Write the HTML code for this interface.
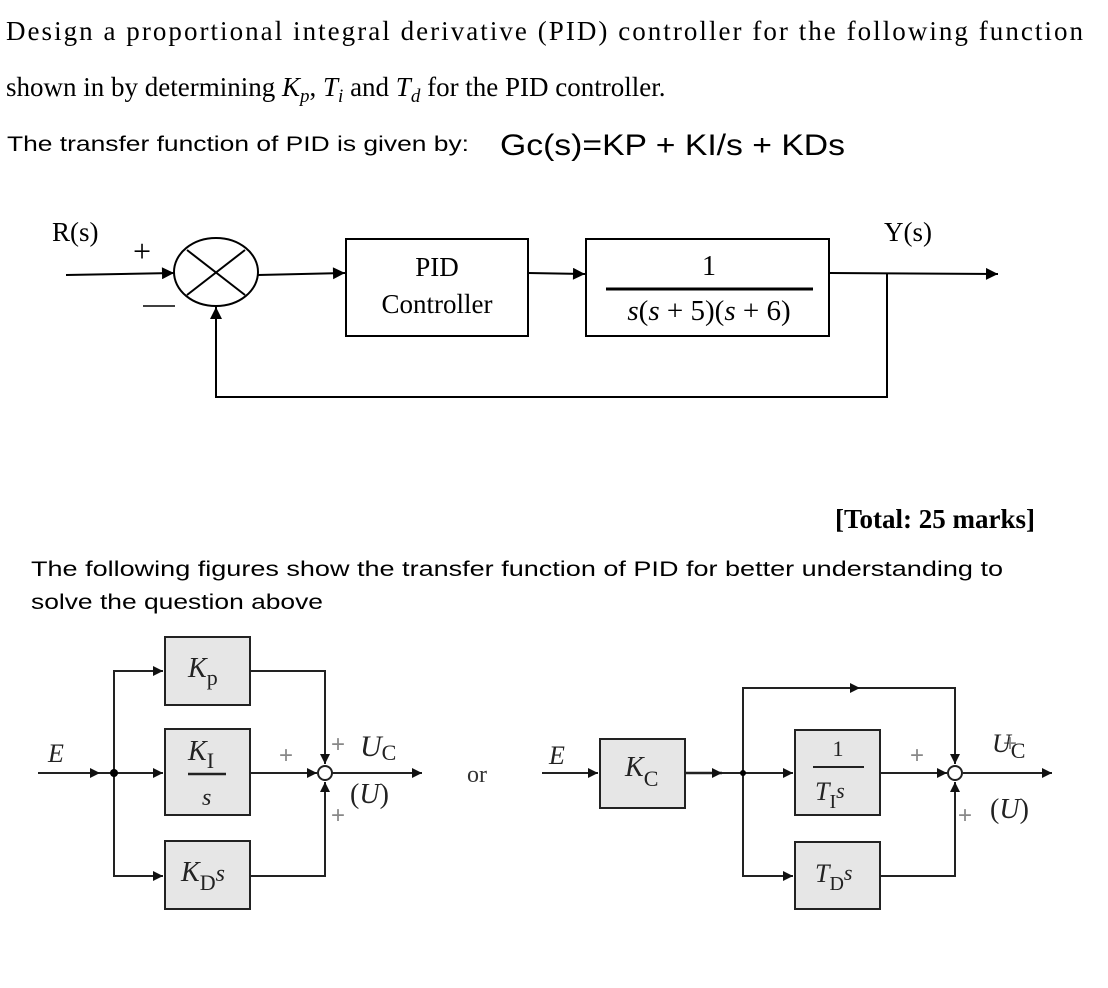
<!DOCTYPE html>
<html><head><meta charset="utf-8"><style>
html,body{margin:0;padding:0;background:#fff;}
svg{display:block;}
.ser{font-family:"Liberation Serif",serif;}
.san{font-family:"Liberation Sans",sans-serif;}
</style></head><body>
<svg width="1108" height="988" viewBox="0 0 1108 988" xmlns="http://www.w3.org/2000/svg">
<defs>
<marker id="a" viewBox="0 0 10 10" refX="10" refY="5" markerWidth="16" markerHeight="12" markerUnits="userSpaceOnUse" orient="auto"><path d="M0,0 L10,5 L0,10 z" fill="#000"/></marker>
<marker id="b" viewBox="0 0 10 10" refX="10" refY="5" markerWidth="14" markerHeight="10" markerUnits="userSpaceOnUse" orient="auto"><path d="M0,0 L10,5 L0,10 z" fill="#111"/></marker>
</defs>
<!-- header text -->
<text class="ser" x="6" y="40" font-size="27" textLength="1077" lengthAdjust="spacing">Design a proportional integral derivative (PID) controller for the following function</text>
<text class="ser" x="6" y="96" font-size="27">shown in by determining <tspan font-style="italic">K<tspan font-size="19" dy="6">p</tspan></tspan><tspan dy="-6">, </tspan><tspan font-style="italic">T<tspan font-size="19" dy="6">i</tspan></tspan><tspan dy="-6"> and </tspan><tspan font-style="italic">T<tspan font-size="19" dy="6">d</tspan></tspan><tspan dy="-6"> for the PID controller.</tspan></text>
<text class="san" x="7" y="151" font-size="21" textLength="462" lengthAdjust="spacingAndGlyphs">The transfer function of PID is given by:</text>
<text class="san" x="500" y="155" font-size="30" textLength="345" lengthAdjust="spacingAndGlyphs">Gc(s)=KP + KI/s + KDs</text>

<!-- top diagram -->
<g stroke="#000" stroke-width="2" fill="none">
<line x1="66" y1="275" x2="174" y2="273" marker-end="url(#a)"/>
<ellipse cx="216" cy="272" rx="42" ry="34"/>
<line x1="187" y1="250" x2="245" y2="295"/>
<line x1="187" y1="295" x2="245" y2="250"/>
<line x1="258" y1="275" x2="345" y2="273" marker-end="url(#a)"/>
<rect x="346" y="239" width="182" height="97"/>
<line x1="528" y1="273" x2="585" y2="274" marker-end="url(#a)"/>
<rect x="586" y="239" width="243" height="97"/>
<line x1="606" y1="289" x2="813" y2="289" stroke-width="3"/>
<line x1="830" y1="273" x2="998" y2="274" marker-end="url(#a)"/>
<polyline points="887,274 887,397 216,397 216,307" marker-end="url(#a)"/>
<line x1="143" y1="306" x2="175" y2="306" stroke-width="1.5"/>
</g>
<text class="ser" x="52" y="241" font-size="27">R(s)</text>
<text class="ser" x="133" y="262" font-size="32">+</text>
<text class="ser" x="437" y="276" font-size="27" text-anchor="middle">PID</text>
<text class="ser" x="437" y="313" font-size="27" text-anchor="middle">Controller</text>
<text class="ser" x="709" y="275" font-size="28" text-anchor="middle">1</text>
<text class="ser" x="709" y="320" font-size="29" text-anchor="middle"><tspan font-style="italic">s</tspan>(<tspan font-style="italic">s</tspan> + 5)(<tspan font-style="italic">s</tspan> + 6)</text>
<text class="ser" x="884" y="241" font-size="27">Y(s)</text>

<text class="ser" x="1035" y="528" font-size="27" font-weight="bold" text-anchor="end">[Total: 25 marks]</text>
<text class="san" x="31" y="576" font-size="21" textLength="972" lengthAdjust="spacingAndGlyphs">The following figures show the transfer function of PID for better understanding to</text>
<text class="san" x="31" y="609" font-size="21" textLength="292" lengthAdjust="spacingAndGlyphs">solve the question above</text>

<!-- lower left -->
<g stroke="#222" stroke-width="2" fill="none">
<line x1="38" y1="773" x2="100" y2="773" marker-end="url(#b)"/>
<line x1="100" y1="773" x2="163" y2="773" marker-end="url(#b)"/>
<polyline points="114,773 114,671 163,671" marker-end="url(#b)"/>
<polyline points="114,773 114,876 163,876" marker-end="url(#b)"/>
<rect x="165" y="637" width="85" height="68" fill="#e6e6e6"/>
<rect x="165" y="729" width="85" height="86" fill="#e6e6e6"/>
<rect x="165" y="841" width="85" height="68" fill="#e6e6e6"/>
<polyline points="250,671 325,671 325,764" marker-end="url(#b)"/>
<polyline points="250,876 325,876 325,782" marker-end="url(#b)"/>
<line x1="250" y1="773" x2="317" y2="773" marker-end="url(#b)"/>
<line x1="332" y1="773" x2="422" y2="773" marker-end="url(#b)"/>
<line x1="188" y1="774" x2="226" y2="774" stroke-width="2.5"/>
<circle cx="325" cy="773" r="7" fill="#fff"/>
</g>
<circle cx="114" cy="773" r="4" fill="#000"/>
<g class="ser" font-style="italic" fill="#222">
<text x="48" y="762" font-size="26">E</text>
<text x="188" y="677" font-size="28">K<tspan font-style="normal" font-size="22" dy="8">p</tspan></text>
<text x="188" y="760" font-size="28">K<tspan font-style="normal" font-size="22" dy="8">I</tspan></text>
<text x="202" y="805" font-size="24">s</text>
<text x="181" y="881" font-size="28">K<tspan font-style="normal" font-size="22" dy="9">D</tspan><tspan dy="-9" font-size="24">s</tspan></text>
<text x="360" y="756" font-size="30">U<tspan font-style="normal" font-size="22" dy="4">C</tspan></text>
<text x="350" y="803" font-size="28"><tspan font-style="normal">(</tspan>U<tspan font-style="normal">)</tspan></text>
</g>
<g class="san" fill="#888" font-size="24">
<text x="279" y="763">+</text>
<text x="331" y="752">+</text>
<text x="331" y="823">+</text>
<text x="1003" y="751">+</text>
<text x="910" y="763">+</text>
<text x="958" y="823">+</text>
</g>
<text class="ser" x="467" y="782" font-size="24" fill="#333">or</text>

<!-- lower right -->
<g stroke="#222" stroke-width="2" fill="none">
<line x1="542" y1="773" x2="598" y2="773" marker-end="url(#b)"/>
<rect x="600" y="739" width="85" height="69" fill="#e6e6e6"/>
<line x1="686" y1="773" x2="722" y2="773" marker-end="url(#b)" stroke-width="2.5"/>
<line x1="722" y1="773" x2="793" y2="773" marker-end="url(#b)"/>
<polyline points="743,773 743,688 860,688" marker-end="url(#b)"/>
<polyline points="860,688 955,688 955,764" marker-end="url(#b)"/>
<polyline points="743,773 743,876 793,876" marker-end="url(#b)"/>
<rect x="795" y="730" width="85" height="85" fill="#e6e6e6"/>
<rect x="795" y="842" width="85" height="67" fill="#e6e6e6"/>
<line x1="813" y1="767" x2="864" y2="767" stroke-width="2"/>
<line x1="880" y1="773" x2="947" y2="773" marker-end="url(#b)"/>
<polyline points="880,876 955,876 955,782" marker-end="url(#b)"/>
<line x1="963" y1="773" x2="1052" y2="773" marker-end="url(#b)"/>
<circle cx="955" cy="773" r="7" fill="#fff"/>
</g>
<circle cx="743" cy="773" r="3" fill="#000"/>
<g class="ser" font-style="italic" fill="#222">
<text x="549" y="764" font-size="26">E</text>
<text x="625" y="776" font-size="28">K<tspan font-style="normal" font-size="22" dy="10">C</tspan></text>
<text x="838" y="756" font-size="22" font-style="normal" text-anchor="middle">1</text>
<text x="815" y="800" font-size="26">T<tspan font-style="normal" font-size="20" dy="8">I</tspan><tspan dy="-10" font-size="22">s</tspan></text>
<text x="815" y="882" font-size="26">T<tspan font-style="normal" font-size="20" dy="8">D</tspan><tspan dy="-10" font-size="22">s</tspan></text>
<text x="992" y="752" font-size="26">U<tspan font-style="normal" font-size="22" dy="6">C</tspan></text>
<text x="990" y="818" font-size="28"><tspan font-style="normal">(</tspan>U<tspan font-style="normal">)</tspan></text>
</g>
</svg>
</body></html>
